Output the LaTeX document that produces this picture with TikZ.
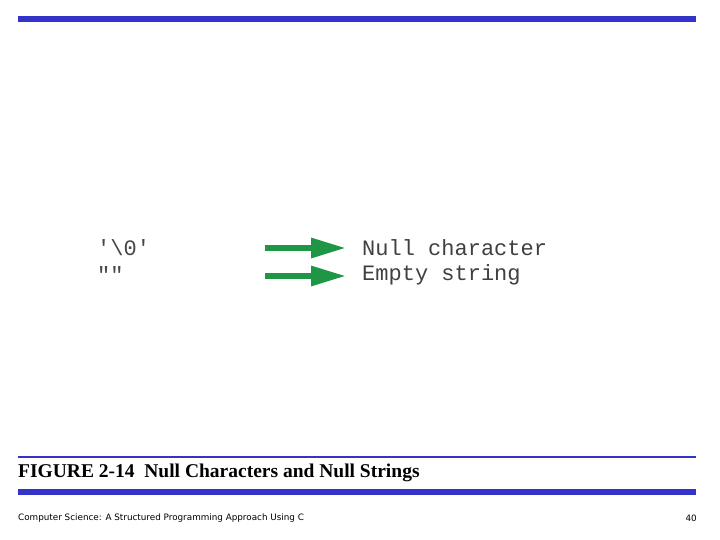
\documentclass[tikz,border=0pt]{standalone}
\usepackage{fontspec}
\setmainfont{Liberation Serif}
\newfontfamily\monof{Liberation Mono}
\newfontfamily\sansf{DejaVu Sans}
\usetikzlibrary{arrows.meta}
\definecolor{barblue}{RGB}{51,51,204}
\definecolor{arrgreen}{RGB}{30,150,70}
\definecolor{codegray}{RGB}{70,70,70}
\tikzset{code/.style={anchor=west,inner sep=0pt,font=\monof\fontsize{22}{22}\selectfont,text=codegray},
garrow/.style={draw=arrgreen,line width=6pt,-{Triangle[length=35pt,width=19pt]}}}
\begin{document}
\begin{tikzpicture}[x=1pt,y=-1pt]
\useasboundingbox (0,0) rectangle (720,540);
\fill[barblue] (18,16) rectangle (696,22);
\draw[barblue,line width=2pt] (18,457) -- (696,457);
\fill[barblue] (18,489) rectangle (696,495);
\node[code] (c1) at (97,248) {'\textbackslash0'};
\node[code] (c2) at (97,275) {""};
\node[code,text=black!75] (t1) at (362,248) {Null character};
\node[code,text=black!75] (t2) at (362,275) {Empty string};
\coordinate (a1) at (265,248);
\coordinate (b1) at (346,248);
\coordinate (a2) at (265,276);
\coordinate (b2) at (346,276);
\draw[garrow] (a1) -- (b1);
\draw[garrow] (a2) -- (b2);
\node[anchor=west,inner sep=0pt,font=\bfseries\fontsize{19.5}{19.5}\selectfont] (cap) at (18,473) {FIGURE 2-14\enspace Null Characters and Null Strings};
\node[anchor=west,inner sep=0pt,font=\sansf\fontsize{8.8}{8.8}\selectfont] (foot) at (18,518) {Computer Science: A Structured Programming Approach Using C};
\node[anchor=east,inner sep=0pt,font=\sansf\fontsize{8.8}{8.8}\selectfont] (pg) at (697,518) {40};
\end{tikzpicture}
\end{document}
